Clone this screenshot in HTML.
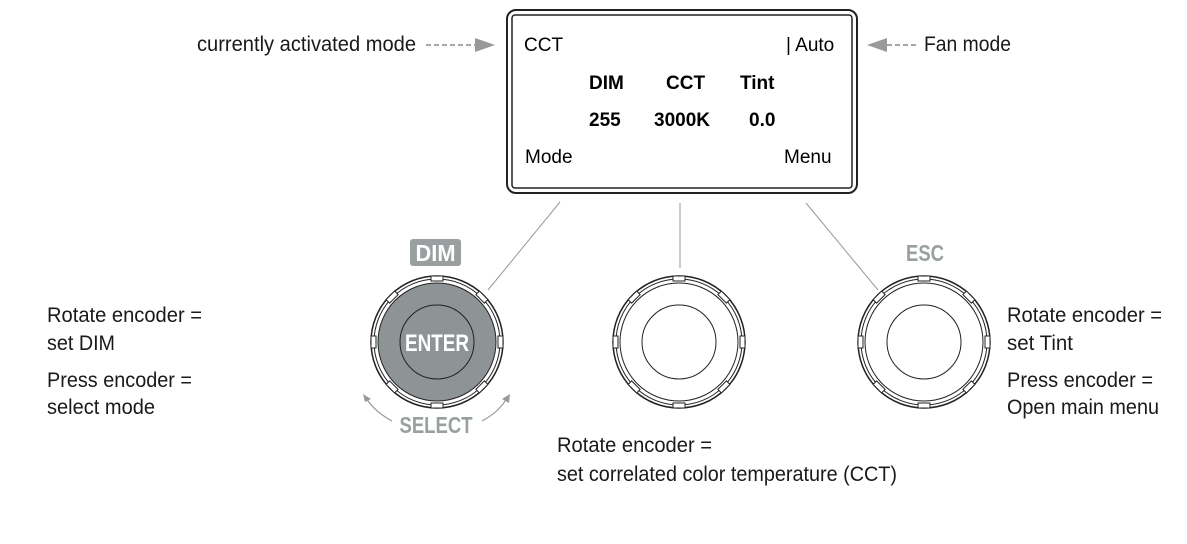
<!DOCTYPE html>
<html><head><meta charset="utf-8"><style>
html,body{margin:0;padding:0;background:#fff;}
svg{display:block;}
.n{font-family:"Liberation Sans Narrow","Liberation Sans",sans-serif;font-size:21px;fill:#1a1a1a;}
.c{font-family:"Liberation Sans","DejaVu Sans",sans-serif;font-size:19px;fill:#000;}
.cb{font-family:"Liberation Sans","DejaVu Sans",sans-serif;font-size:19px;font-weight:bold;fill:#000;}
.g{font-family:"Liberation Sans Narrow","Liberation Sans",sans-serif;font-weight:bold;fill:#9a9fa0;}
</style></head><body>
<svg width="1187" height="544" viewBox="0 0 1187 544" xmlns="http://www.w3.org/2000/svg">
<defs>
<g id="teeth" fill="#fff" stroke="#222" stroke-width="1">
  <rect x="-6" y="-66" width="12" height="5"/>
  <rect x="-6" y="-66" width="12" height="5" transform="rotate(45)"/>
  <rect x="-6" y="-66" width="12" height="5" transform="rotate(90)"/>
  <rect x="-6" y="-66" width="12" height="5" transform="rotate(135)"/>
  <rect x="-6" y="-66" width="12" height="5" transform="rotate(180)"/>
  <rect x="-6" y="-66" width="12" height="5" transform="rotate(225)"/>
  <rect x="-6" y="-66" width="12" height="5" transform="rotate(270)"/>
  <rect x="-6" y="-66" width="12" height="5" transform="rotate(315)"/>
</g>
</defs>
<!-- screen -->
<rect x="507" y="10" width="350" height="183" rx="9" fill="none" stroke="#222" stroke-width="2"/>
<rect x="512" y="15" width="340" height="173" rx="3" fill="none" stroke="#222" stroke-width="1.5"/>
<text class="c" x="524" y="51">CCT</text>
<text class="c" x="786" y="51">| Auto</text>
<text class="cb" x="589" y="89">DIM</text>
<text class="cb" x="666" y="89">CCT</text>
<text class="cb" x="740" y="89">Tint</text>
<text class="cb" x="589" y="126">255</text>
<text class="cb" x="654" y="126">3000K</text>
<text class="cb" x="749" y="126">0.0</text>
<text class="c" x="525" y="163">Mode</text>
<text class="c" x="784" y="163">Menu</text>
<!-- annotations top -->
<text class="n" x="197" y="51" textLength="219" lengthAdjust="spacingAndGlyphs">currently activated mode</text>
<line x1="426" y1="45" x2="475" y2="45" stroke="#888" stroke-width="1.5" stroke-dasharray="5,3"/>
<polygon points="475,38 495,45 475,52" fill="#999"/>
<polygon points="887,38 867,45 887,52" fill="#999"/>
<line x1="887" y1="45" x2="918" y2="45" stroke="#888" stroke-width="1.5" stroke-dasharray="5,3"/>
<text class="n" x="924" y="51" textLength="87" lengthAdjust="spacingAndGlyphs">Fan mode</text>
<!-- connector lines -->
<line x1="560" y1="202" x2="488" y2="290" stroke="#999" stroke-width="1"/>
<line x1="680" y1="203" x2="680" y2="268" stroke="#999" stroke-width="1"/>
<line x1="806" y1="203" x2="878" y2="290" stroke="#999" stroke-width="1"/>
<!-- left knob -->
<g transform="translate(437,342)">
  <circle r="66" fill="#fff" stroke="#222" stroke-width="1.5"/>
  <circle r="63" fill="none" stroke="#222" stroke-width="1"/>
  <use href="#teeth"/>
  <circle r="59" fill="#8e9396" stroke="#222" stroke-width="1"/>
  <circle r="37" fill="#8e9396" stroke="#222" stroke-width="1"/>
  <text class="g" x="0" y="9" font-size="24" text-anchor="middle" fill="#fff" style="fill:#fff" textLength="64" lengthAdjust="spacingAndGlyphs">ENTER</text>
</g>
<rect x="410" y="239" width="51" height="27" rx="3" fill="#9a9fa0"/>
<text class="g" x="435.5" y="261" font-size="23" text-anchor="middle" style="fill:#fff" textLength="40" lengthAdjust="spacingAndGlyphs">DIM</text>
<text class="g" x="436" y="433" font-size="23" text-anchor="middle" textLength="73" lengthAdjust="spacingAndGlyphs">SELECT</text>
<path d="M392,421 Q375,412 366,398" fill="none" stroke="#999" stroke-width="1.2"/>
<polygon points="363,394 371,399 365,402" fill="#999"/>
<path d="M482,421 Q499,412 507,398" fill="none" stroke="#999" stroke-width="1.2"/>
<polygon points="510,394 509,403 502,399" fill="#999"/>
<!-- middle knob -->
<g transform="translate(679,342)">
  <circle r="66" fill="#fff" stroke="#222" stroke-width="1.5"/>
  <circle r="63" fill="none" stroke="#222" stroke-width="1"/>
  <use href="#teeth"/>
  <circle r="59" fill="#fff" stroke="#222" stroke-width="1"/>
  <circle r="37" fill="none" stroke="#222" stroke-width="1"/>
</g>
<!-- right knob -->
<g transform="translate(924,342)">
  <circle r="66" fill="#fff" stroke="#222" stroke-width="1.5"/>
  <circle r="63" fill="none" stroke="#222" stroke-width="1"/>
  <use href="#teeth"/>
  <circle r="59" fill="#fff" stroke="#222" stroke-width="1"/>
  <circle r="37" fill="none" stroke="#222" stroke-width="1"/>
</g>
<text class="g" x="925" y="261" font-size="23" text-anchor="middle" textLength="38" lengthAdjust="spacingAndGlyphs">ESC</text>
<!-- labels -->
<text class="n" x="47" y="322" textLength="155" lengthAdjust="spacingAndGlyphs">Rotate encoder =</text>
<text class="n" x="47" y="350" textLength="68" lengthAdjust="spacingAndGlyphs">set DIM</text>
<text class="n" x="47" y="387" textLength="145" lengthAdjust="spacingAndGlyphs">Press encoder =</text>
<text class="n" x="47" y="414" textLength="108" lengthAdjust="spacingAndGlyphs">select mode</text>
<text class="n" x="1007" y="322" textLength="155" lengthAdjust="spacingAndGlyphs">Rotate encoder =</text>
<text class="n" x="1007" y="350" textLength="66" lengthAdjust="spacingAndGlyphs">set Tint</text>
<text class="n" x="1007" y="387" textLength="146" lengthAdjust="spacingAndGlyphs">Press encoder =</text>
<text class="n" x="1007" y="414" textLength="152" lengthAdjust="spacingAndGlyphs">Open main menu</text>
<text class="n" x="557" y="452" textLength="155" lengthAdjust="spacingAndGlyphs">Rotate encoder =</text>
<text class="n" x="557" y="481" textLength="340" lengthAdjust="spacingAndGlyphs">set correlated color temperature (CCT)</text>
</svg>
</body></html>
